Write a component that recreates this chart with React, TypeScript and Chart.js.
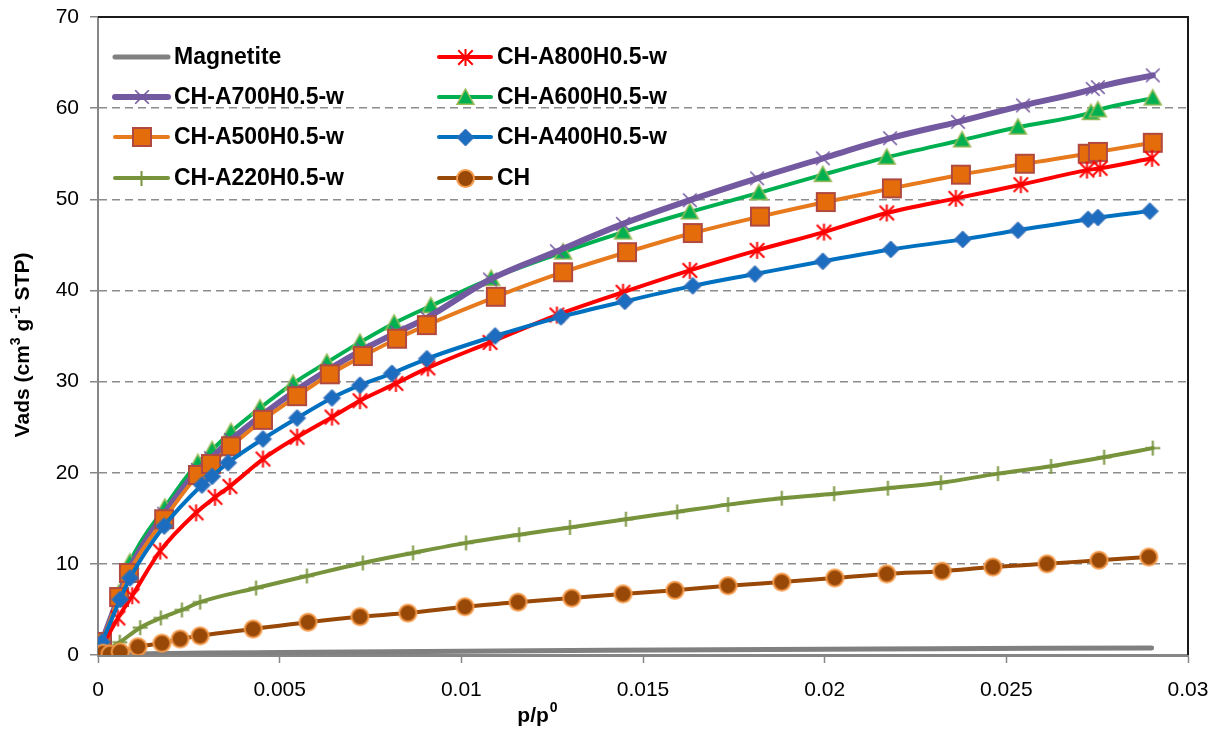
import React, { useEffect, useRef } from "react";
import { Chart, registerables } from "chart.js";

Chart.register(...registerables);

// ---------------- data ----------------
const xTickValues = [0, 0.005, 0.01, 0.015, 0.02, 0.025, 0.03];
const yTickValues = [0, 10, 20, 30, 40, 50, 60, 70];

const magnetiteX = [0.0001, 0.0005, 0.001, 0.002, 0.003, 0.005, 0.008, 0.011, 0.014, 0.017, 0.02, 0.023, 0.026, 0.029];
const magnetiteY = [0.05, 0.08, 0.12, 0.17, 0.21, 0.27, 0.36, 0.44, 0.51, 0.57, 0.63, 0.69, 0.74, 0.78];

const a800X = [0.00006, 0.00055, 0.00094, 0.00171, 0.0027, 0.00322, 0.00363, 0.00454, 0.00548, 0.00644, 0.00721, 0.0082, 0.00908, 0.01079, 0.01263, 0.01445, 0.01629, 0.01814, 0.01998, 0.02171, 0.02361, 0.0254, 0.02722, 0.02758, 0.02901];
const a800Y = [0.55, 4.06, 6.5, 11.4, 15.6, 17.3, 18.5, 21.5, 23.9, 26.1, 27.9, 29.8, 31.5, 34.3, 37.3, 39.8, 42.2, 44.4, 46.4, 48.5, 50.1, 51.6, 53.2, 53.4, 54.5];

const a700X = [0.00011, 0.00058, 0.00085, 0.00182, 0.00275, 0.00311, 0.00366, 0.00454, 0.00548, 0.00638, 0.00729, 0.00823, 0.00905, 0.01079, 0.01263, 0.01445, 0.01629, 0.01814, 0.01995, 0.0218, 0.02367, 0.02546, 0.02738, 0.02752, 0.02903];
const a700Y = [1.45, 6.5, 9.3, 15.5, 20.3, 21.6, 23.6, 26.4, 29.1, 31.4, 33.5, 35.4, 37.0, 41.2, 44.3, 47.3, 49.9, 52.3, 54.5, 56.7, 58.5, 60.3, 62.1, 62.3, 63.6];

const a600X = [0.00011, 0.00058, 0.00088, 0.00184, 0.00275, 0.00314, 0.00366, 0.00446, 0.00537, 0.0063, 0.00721, 0.00815, 0.00916, 0.01082, 0.0128, 0.01445, 0.01629, 0.01819, 0.01995, 0.02171, 0.02378, 0.02532, 0.02733, 0.02752, 0.02903];
const a600Y = [1.5, 6.8, 10.2, 16.2, 21.1, 22.5, 24.5, 27.1, 29.8, 32.1, 34.3, 36.4, 38.3, 41.3, 44.2, 46.4, 48.6, 50.7, 52.7, 54.6, 56.5, 57.9, 59.5, 59.8, 61.1];

const a500X = [0.00011, 0.00058, 0.00085, 0.00182, 0.00275, 0.00311, 0.00366, 0.00454, 0.00548, 0.00638, 0.00729, 0.00823, 0.00905, 0.01095, 0.0128, 0.01456, 0.01637, 0.01822, 0.02003, 0.02185, 0.02375, 0.02551, 0.02724, 0.02752, 0.02903];
const a500Y = [1.43, 6.36, 9.0, 14.9, 19.75, 20.96, 22.9, 25.8, 28.4, 30.8, 32.8, 34.7, 36.2, 39.3, 42.0, 44.2, 46.3, 48.1, 49.7, 51.2, 52.7, 53.9, 55.0, 55.2, 56.2];

const a400X = [0.00011, 0.00061, 0.00088, 0.00182, 0.00286, 0.00314, 0.00358, 0.00454, 0.00548, 0.00644, 0.00721, 0.00809, 0.00905, 0.01093, 0.01274, 0.0145, 0.01637, 0.01808, 0.01995, 0.02182, 0.0238, 0.02532, 0.02725, 0.02752, 0.02895];
const a400Y = [1.43, 6.1, 8.45, 14.15, 18.65, 19.6, 21.1, 23.7, 26.0, 28.2, 29.6, 30.9, 32.5, 35.0, 37.1, 38.8, 40.5, 41.8, 43.2, 44.5, 45.6, 46.6, 47.8, 48.0, 48.7];

const a220X = [0.00006, 0.0006, 0.00116, 0.00173, 0.00231, 0.00281, 0.00435, 0.00575, 0.00729, 0.00867, 0.01013, 0.01159, 0.01299, 0.01453, 0.01594, 0.01734, 0.01882, 0.02026, 0.02174, 0.0232, 0.02477, 0.02623, 0.02769, 0.02903];
const a220Y = [0.1, 1.4, 3.0, 4.06, 4.94, 5.8, 7.35, 8.67, 10.1, 11.2, 12.3, 13.2, 14.0, 14.9, 15.7, 16.5, 17.2, 17.7, 18.3, 18.9, 19.9, 20.7, 21.7, 22.7];

const chX = [0.00014, 0.00033, 0.00061, 0.0011, 0.00176, 0.00226, 0.00281, 0.00427, 0.00578, 0.00721, 0.00853, 0.0101, 0.01156, 0.01304, 0.01445, 0.01588, 0.01734, 0.01882, 0.02028, 0.02171, 0.02323, 0.02463, 0.02612, 0.02755, 0.02892];
const chY = [0.2, 0.1, 0.33, 0.9, 1.3, 1.76, 2.1, 2.85, 3.6, 4.2, 4.6, 5.3, 5.8, 6.25, 6.7, 7.1, 7.6, 8.0, 8.45, 8.9, 9.2, 9.65, 10.0, 10.4, 10.75];

const seriesNames = [
  "Magnetite",
  "CH-A800H0.5-w",
  "CH-A700H0.5-w",
  "CH-A600H0.5-w",
  "CH-A500H0.5-w",
  "CH-A400H0.5-w",
  "CH-A220H0.5-w",
  "CH",
];

const xTitle = "p/p";
const xTitleSup = "0";

// ---------------- styling ----------------
const FONT = '"Liberation Sans", Arial, sans-serif';

type MarkerKind = "none" | "asterisk" | "x" | "triangle" | "square" | "diamond" | "plus" | "circle";

function makeMarker(kind: MarkerKind, size: number, fill: string, stroke: string, lw: number): HTMLCanvasElement {
  const pad = Math.ceil(lw) + 2;
  const S = size + pad * 2;
  const c = document.createElement("canvas");
  c.width = S;
  c.height = S;
  const g = c.getContext("2d")!;
  const cx = S / 2;
  const cy = S / 2;
  const r = size / 2;
  g.lineWidth = lw;
  g.strokeStyle = stroke;
  g.fillStyle = fill;
  g.lineJoin = "miter";
  g.beginPath();
  switch (kind) {
    case "square":
      g.rect(cx - r, cy - r, size, size);
      g.fill();
      g.stroke();
      break;
    case "diamond":
      g.moveTo(cx, cy - r);
      g.lineTo(cx + r, cy);
      g.lineTo(cx, cy + r);
      g.lineTo(cx - r, cy);
      g.closePath();
      g.fill();
      g.stroke();
      break;
    case "triangle":
      g.moveTo(cx, cy - r);
      g.lineTo(cx + r, cy + r * 0.8);
      g.lineTo(cx - r, cy + r * 0.8);
      g.closePath();
      g.fill();
      g.stroke();
      break;
    case "circle":
      g.arc(cx, cy, r, 0, Math.PI * 2);
      g.fill();
      g.stroke();
      break;
    case "x": {
      const d = r * 0.85;
      g.moveTo(cx - d, cy - d);
      g.lineTo(cx + d, cy + d);
      g.moveTo(cx + d, cy - d);
      g.lineTo(cx - d, cy + d);
      g.stroke();
      break;
    }
    case "asterisk": {
      const d = r * 0.85;
      g.moveTo(cx - d, cy - d);
      g.lineTo(cx + d, cy + d);
      g.moveTo(cx + d, cy - d);
      g.lineTo(cx - d, cy + d);
      g.moveTo(cx, cy - r);
      g.lineTo(cx, cy + r);
      g.stroke();
      break;
    }
    case "plus":
      g.moveTo(cx, cy - r);
      g.lineTo(cx, cy + r);
      g.moveTo(cx - r, cy);
      g.lineTo(cx + r, cy);
      g.stroke();
      break;
    default:
      break;
  }
  return c;
}

interface SeriesStyle {
  color: string;
  width: number;
  marker: MarkerKind;
  size: number;
  fill: string;
  stroke: string;
  mlw: number;
  order: number;
}

const styles: SeriesStyle[] = [
  { color: "#808080", width: 5, marker: "none", size: 0, fill: "", stroke: "", mlw: 0, order: 10 },
  { color: "#FF0000", width: 4, marker: "asterisk", size: 17, fill: "#FF0000", stroke: "#FF0000", mlw: 2, order: 5 },
  { color: "#7359A0", width: 6, marker: "x", size: 16, fill: "#7359A0", stroke: "#7359A0", mlw: 1.6, order: 8 },
  { color: "#00B050", width: 4, marker: "triangle", size: 17, fill: "#00B050", stroke: "#9BBB59", mlw: 1.5, order: 9 },
  { color: "#E87A1E", width: 4, marker: "square", size: 18, fill: "#E46C0A", stroke: "#B04A40", mlw: 2, order: 7 },
  { color: "#0070C0", width: 4, marker: "diamond", size: 17, fill: "#1C6DBF", stroke: "#3F70B5", mlw: 1, order: 4 },
  { color: "#77933C", width: 4, marker: "plus", size: 15, fill: "#77933C", stroke: "#77933C", mlw: 2, order: 3 },
  { color: "#984807", width: 4, marker: "circle", size: 17, fill: "#984807", stroke: "#F59A4A", mlw: 2, order: 2 },
];

const legendCols = [
  { lineStart: 115, lineEnd: 168, textX: 174 },
  { lineStart: 439, lineEnd: 491, textX: 497 },
];
const legendRows = [57, 97, 137, 178];

export default function App() {
  const canvasRef = useRef<HTMLCanvasElement>(null);

  useEffect(() => {
    document.body.style.margin = "0";
    const canvas = canvasRef.current;
    if (!canvas) return;

    const xs = [magnetiteX, a800X, a700X, a600X, a500X, a400X, a220X, chX];
    const ys = [magnetiteY, a800Y, a700Y, a600Y, a500Y, a400Y, a220Y, chY];
    const markers = styles.map((s) =>
      s.marker === "none" ? null : makeMarker(s.marker, s.size, s.fill, s.stroke, s.mlw)
    );

    const datasets = seriesNames.map((name, i) => ({
      label: name,
      data: xs[i].map((x, j) => ({ x, y: ys[i][j] })),
      borderColor: styles[i].color,
      backgroundColor: styles[i].color,
      borderWidth: styles[i].width,
      pointStyle: markers[i] ? (markers[i] as any) : "circle",
      pointRadius: markers[i] ? 8 : 0,
      pointHoverRadius: markers[i] ? 8 : 0,
      cubicInterpolationMode: "monotone" as const,
      borderCapStyle: "round" as const,
      fill: false,
      order: styles[i].order,
    }));

    const overlayPlugin = {
      id: "overlay",
      afterDraw(chart: any) {
        const ctx: CanvasRenderingContext2D = chart.ctx;
        const area = chart.chartArea;
        ctx.save();
        // top and right frame
        ctx.strokeStyle = "#1a1a1a";
        ctx.lineWidth = 2;
        ctx.beginPath();
        ctx.moveTo(area.left, area.top);
        ctx.lineTo(area.right, area.top);
        ctx.lineTo(area.right, area.bottom);
        ctx.stroke();

        // legend
        ctx.font = `bold 23px ${FONT}`;
        ctx.textBaseline = "middle";
        ctx.textAlign = "left";
        seriesNames.forEach((name, i) => {
          const col = legendCols[i % 2];
          const y = legendRows[Math.floor(i / 2)];
          const s = styles[i];
          ctx.strokeStyle = s.color;
          ctx.lineWidth = s.width;
          ctx.lineCap = "round";
          ctx.beginPath();
          ctx.moveTo(col.lineStart, y);
          ctx.lineTo(col.lineEnd, y);
          ctx.stroke();
          const m = markers[i];
          if (m) {
            const cx = (col.lineStart + col.lineEnd) / 2;
            ctx.drawImage(m, Math.round(cx - m.width / 2), Math.round(y - m.height / 2));
          }
          ctx.fillStyle = "#000";
          ctx.fillText(name, col.textX, y + 1);
        });

        // x axis title
        ctx.fillStyle = "#000";
        const big = `bold 21px ${FONT}`;
        const small = `bold 14px ${FONT}`;
        ctx.font = big;
        const w1 = ctx.measureText(xTitle).width;
        ctx.font = small;
        const w2 = ctx.measureText(xTitleSup).width;
        const sx = 537 - (w1 + w2) / 2;
        ctx.font = big;
        ctx.fillText(xTitle, sx, 716);
        ctx.font = small;
        ctx.fillText(xTitleSup, sx + w1 + 1, 708);

        // y axis title
        const segs = [
          { t: "Vads (cm", sup: false },
          { t: "3", sup: true },
          { t: " g", sup: false },
          { t: "-1", sup: true },
          { t: " STP)", sup: false },
        ];
        let total = 0;
        const widths = segs.map((sg) => {
          ctx.font = sg.sup ? small : big;
          const w = ctx.measureText(sg.t).width;
          total += w;
          return w;
        });
        ctx.save();
        ctx.translate(23, 345);
        ctx.rotate(-Math.PI / 2);
        let px = -total / 2;
        segs.forEach((sg, k) => {
          ctx.font = sg.sup ? small : big;
          ctx.fillText(sg.t, px, sg.sup ? -7 : 0);
          px += widths[k];
        });
        ctx.restore();
        ctx.restore();
      },
    };

    const chart = new Chart(canvas, {
      type: "line",
      data: { datasets: datasets as any },
      options: {
        responsive: false,
        animation: false,
        events: [],
        layout: { padding: { top: 17, right: 42, bottom: 0, left: 0 } },
        plugins: {
          legend: { display: false },
          tooltip: { enabled: false },
          title: { display: false },
        },
        scales: {
          x: {
            type: "linear",
            min: 0,
            max: 0.03,
            afterFit: (scale: any) => {
              scale.height = 78;
            },
            afterBuildTicks: (scale: any) => {
              scale.ticks = xTickValues.map((v) => ({ value: v }));
            },
            ticks: {
              color: "#000",
              font: { family: FONT, size: 21 },
              padding: 15,
              maxRotation: 0,
              autoSkip: false,
              callback: (v: any) => String(Number(Number(v).toFixed(3))),
            },
            grid: {
              display: true,
              drawOnChartArea: false,
              drawTicks: true,
              tickLength: 8,
              tickColor: "#868686",
              tickWidth: 1.5,
            },
            border: { display: true, color: "#868686", width: 3 },
          },
          y: {
            type: "linear",
            min: 0,
            max: 70,
            afterFit: (scale: any) => {
              scale.width = 98;
              scale.paddingTop = 0;
              scale.paddingBottom = 0;
            },
            afterBuildTicks: (scale: any) => {
              scale.ticks = yTickValues.map((v) => ({ value: v }));
            },
            ticks: {
              color: "#000",
              font: { family: FONT, size: 21 },
              padding: 11,
              autoSkip: false,
            },
            grid: {
              display: true,
              drawOnChartArea: true,
              drawTicks: true,
              tickLength: 8,
              tickColor: "#868686",
              tickWidth: 1.5,
              lineWidth: 1.5,
              color: (ctx: any) =>
                ctx.tick && (ctx.tick.value === 0 || ctx.tick.value === 70) ? "rgba(0,0,0,0)" : "#8c8c8c",
            },
            border: { display: true, color: "#868686", width: 2, dash: [8, 5] },
          },
        },
      },
      plugins: [overlayPlugin],
    });

    return () => {
      chart.destroy();
    };
  }, []);

  return (
    <div style={{ width: 1230, height: 733 }}>
      <canvas ref={canvasRef} width={1230} height={733} style={{ display: "block" }} />
    </div>
  );
}
